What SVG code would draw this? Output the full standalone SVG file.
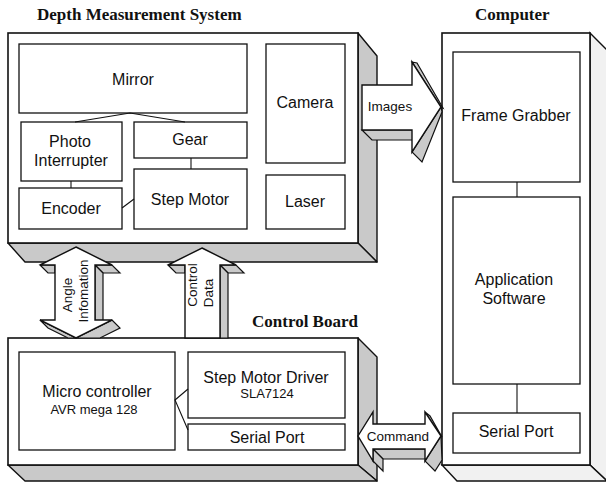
<svg xmlns="http://www.w3.org/2000/svg" width="606" height="483" viewBox="0 0 606 483">
  <style>
    .face { fill: #fff; stroke: #111; stroke-width: 1.6; }
    .side { fill: #c9c9c9; stroke: #111; stroke-width: 1.4; stroke-linejoin: round; }
    .side-light { fill: #f1f1f1; stroke: #111; stroke-width: 1.4; }
    .box { fill: #fff; stroke: #111; stroke-width: 1.3; }
    .link { fill: none; stroke: #111; stroke-width: 1.1; }
    .arrow { fill: #fff; stroke: #111; stroke-width: 1.4; stroke-linejoin: miter; }
    .aside { fill: #cacaca; stroke: #111; stroke-width: 1.2; }
    .lbl { font-family: "Liberation Sans", Arial, sans-serif; font-size: 16px; fill: #111; text-anchor: middle; }
    .sm { font-family: "Liberation Sans", Arial, sans-serif; font-size: 13px; fill: #111; text-anchor: middle; }
    .al { font-family: "Liberation Sans", Arial, sans-serif; font-size: 13.5px; fill: #111; text-anchor: middle; }
    .title { font-family: "Liberation Serif", "Times New Roman", serif; font-size: 17px; font-weight: bold; fill: #111; }
  </style>

  <!-- Depth Measurement System -->
  <g id="depth-measurement-system">
    <text class="title" x="37" y="20">Depth Measurement System</text>
    <polygon class="side" points="358,33 377,56 377,262 358,243"/>
    <polygon class="side" points="8,243 358,243 377,262 25,262"/>
    <rect class="face" x="8" y="33" width="350" height="210"/>
    <g id="mirror"><rect class="box" x="19" y="44" width="228" height="69"/><text class="lbl" x="133" y="85">Mirror</text></g>
    <g id="camera"><rect class="box" x="266" y="44" width="79" height="119"/><text class="lbl" x="305" y="108">Camera</text></g>
    <g id="laser"><rect class="box" x="266" y="175" width="79" height="54"/><text class="lbl" x="305" y="207">Laser</text></g>
    <g id="photo-interrupter"><rect class="box" x="21" y="122" width="101" height="59"/><text class="lbl" x="70" y="147">Photo</text><text class="lbl" x="71" y="166">Interrupter</text></g>
    <g id="gear"><rect class="box" x="134" y="122" width="113" height="36"/><text class="lbl" x="190" y="145">Gear</text></g>
    <g id="encoder"><rect class="box" x="19" y="188" width="103" height="41"/><text class="lbl" x="71" y="214">Encoder</text></g>
    <g id="step-motor"><rect class="box" x="134" y="169" width="113" height="60"/><text class="lbl" x="190" y="205">Step Motor</text></g>
  </g>

  <!-- Control Board -->
  <g id="control-board">
    <text class="title" x="252" y="327">Control Board</text>
    <polygon class="side" points="358,338 377,357 377,481 358,465"/>
    <polygon class="side" points="8,465 358,465 377,481 25,481"/>
    <rect class="face" x="8" y="338" width="350" height="127"/>
    <g id="micro-controller"><rect class="box" x="19" y="352" width="156" height="98"/><text class="lbl" x="97" y="397">Micro controller</text><text class="sm" x="94" y="414">AVR mega 128</text></g>
    <g id="step-motor-driver"><rect class="box" x="188" y="352" width="157" height="66"/><text class="lbl" x="266" y="383">Step Motor Driver</text><text class="sm" x="267" y="398">SLA7124</text></g>
    <g id="board-serial-port"><rect class="box" x="188" y="424" width="157" height="26"/><text class="lbl" x="267" y="443">Serial Port</text></g>
  </g>

  <!-- Computer -->
  <g id="computer">
    <text class="title" x="475" y="20">Computer</text>
    <polygon class="side-light" points="590,33 607,50 607,481 590,465"/>
    <polygon class="side-light" points="442,465 590,465 607,481 457,481"/>
    <rect class="face" x="442" y="33" width="148" height="432"/>
    <g id="frame-grabber"><rect class="box" x="453" y="52" width="127" height="130"/><text class="lbl" x="516" y="121">Frame Grabber</text></g>
    <g id="application-software"><rect class="box" x="453" y="197" width="127" height="187"/><text class="lbl" x="514" y="285">Application</text><text class="lbl" x="514" y="304">Software</text></g>
    <g id="pc-serial-port"><rect class="box" x="453" y="413" width="127" height="40"/><text class="lbl" x="516" y="437">Serial Port</text></g>
  </g>

  <!-- Connectors -->
  <g id="connectors">
    <!-- internal links -->
    <polyline class="link" points="75,122 130,113 185,122"/>
    <line class="link" x1="191" y1="158" x2="191" y2="169"/>
    <line class="link" x1="71" y1="181" x2="71" y2="188"/>
    <line class="link" x1="122" y1="208" x2="134" y2="199"/>
    <polyline class="link" points="188,389 175,400 188,430"/>
    <line class="link" x1="517" y1="182" x2="517" y2="197"/>
    <line class="link" x1="517" y1="384" x2="517" y2="413"/>

    <!-- Images block arrow -->
    <g id="arrow-images">
      <polygon class="aside" points="362,130 412,130 422,140 372,140"/>
      <polygon class="aside" points="441,107 412,152 422,162 442,112"/>
      <polygon class="aside" points="412,62 417,63 443,108 441,107"/>
      <polygon class="arrow" points="362,85 412,85 412,62 441,107 412,152 412,130 362,130"/>
      <text class="al" x="390" y="111">Images</text>
    </g>

    <!-- Command block arrow -->
    <g id="arrow-command">
      <polygon class="aside" points="373,449 425,449 435,459 383,459"/>
      <polygon class="aside" points="373,449 373,461 383,471 383,459"/>
      <polygon class="aside" points="441,436 425,461 435,471 442,460"/>
      <polygon class="aside" points="425,412 441,436 442,437 430,416"/>
      <polygon class="arrow" points="358,436 373,412 373,424 425,424 425,412 441,436 425,461 425,449 373,449 373,461"/>
      <text class="al" x="398" y="441">Command</text>
    </g>

    <!-- Angle Infomation block arrow -->
    <g id="arrow-angle">
      <polygon class="aside" points="40,265 55,265 55,273 48,273"/>
      <polygon class="aside" points="95,265 112,265 120,273 103,273"/>
      <polygon class="aside" points="95,265 103,273 103,328 95,320"/>
      <polygon class="aside" points="112,320 76,338 100,338 120,328"/>
      <polygon class="aside" points="40,320 76,338 68,338 48,328"/>
      <polygon class="arrow" points="76,247 112,265 95,265 95,320 112,320 76,338 40,320 55,320 55,265 40,265"/>
      <text class="al" transform="translate(71.5,295) rotate(-90)">Angle</text>
      <text class="al" transform="translate(87.5,291) rotate(-90)">Infomation</text>
    </g>

    <!-- Control Data block arrow -->
    <g id="arrow-control-data">
      <polygon class="aside" points="168,265 185,265 185,273 176,273"/>
      <polygon class="aside" points="220,265 236,265 244,273 228,273"/>
      <polygon class="aside" points="220,265 228,273 228,338 220,338"/>
      <polygon class="arrow" points="202,248 236,265 220,265 220,338 185,338 185,265 168,265"/>
      <text class="al" transform="translate(197,285) rotate(-90)">Control</text>
      <text class="al" transform="translate(213,293) rotate(-90)">Data</text>
    </g>
  </g>
</svg>
